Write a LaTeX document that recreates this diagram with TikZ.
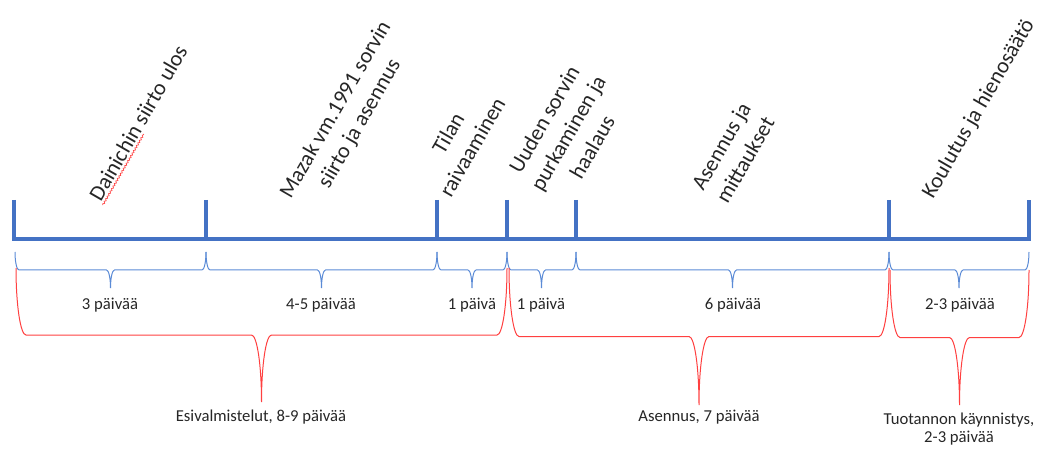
\documentclass[tikz,border=0pt]{standalone}
\usepackage{fontspec}
\setmainfont{Carlito}
\usetikzlibrary{decorations.pathmorphing}
\definecolor{axisblue}{HTML}{4472C4}
\definecolor{braceblue}{HTML}{5B8BD6}
\definecolor{bracered}{HTML}{FF4040}
\definecolor{txt}{HTML}{262626}

% curly brace opening upwards: style, left x, right x, top y, tip y, corner radius
\newcommand\curlybrace[6]{%
  \pgfmathsetmacro\bxc{(#2+#3)/2}%
  \pgfmathsetmacro\bh{(#5-#4)/2}%
  \pgfmathsetmacro\bmid{#4+\bh}%
  \pgfmathsetmacro\bk{0.552*\bh}%
  \pgfmathsetmacro\bkr{0.552*#6}%
  \draw[#1] (#2,#4) .. controls (#2,#4+\bk) and (#2+#6-\bkr,\bmid) .. (#2+#6,\bmid)
    -- (\bxc-#6,\bmid) .. controls (\bxc-#6+\bkr,\bmid) and (\bxc,\bmid+\bh-\bk) .. (\bxc,#5)
    .. controls (\bxc,\bmid+\bh-\bk) and (\bxc+#6-\bkr,\bmid) .. (\bxc+#6,\bmid)
    -- (#3-#6,\bmid) .. controls (#3-#6+\bkr,\bmid) and (#3,#4+\bk) .. (#3,#4);%
}

\begin{document}
\begin{tikzpicture}[x=0.75pt,y=-0.75pt,
  timeline/.style={axisblue,line width=2.7pt},
  phasebrace/.style={braceblue,line width=0.75pt},
  groupbrace/.style={bracered,line width=0.75pt},
  steplabel/.style={txt,rotate=60,align=center,font=\fontsize{16.5}{20.8}\selectfont,inner sep=0pt},
  daylabel/.style={txt,align=center,font=\fontsize{12.5}{13.5}\selectfont,inner sep=0pt}]
\useasboundingbox (0,0) rectangle (1043,449);

% tick positions on the time axis
\foreach \n/\x in {0/14,1/206,2/437,3/507,4/576,5/889,6/1029}{
  \coordinate (t\n) at (\x,239);
  \coordinate (u\n) at (\x,200);
}

% time axis with phase ticks
\draw[timeline,line cap=butt] (u0) -- (t0) -- (t6) -- (u6);
\foreach \n in {1,...,5}{\draw[timeline] (u\n) -- (t\n);}

% phase names
\node[steplabel] (s1) at (138,123) {Dainichin siirto ulos};
\node[steplabel] (s2) at (348,117) {Mazak vm.1991 sorvin\\siirto ja asennus};
\node[steplabel] (s3) at (460,140) {Tilan\\raivaaminen};
\node[steplabel] (s4) at (568,133) {Uuden sorvin\\purkaminen ja\\haalaus};
\node[steplabel] (s5) at (733,153) {Asennus ja\\mittaukset};
\node[steplabel] (s6) at (979,109) {Koulutus ja hienosäätö};
% spelling mark under the first word
\draw[bracered,line width=0.5pt,decorate,decoration={snake,amplitude=0.6pt,segment length=2.2pt}]
  (s1.base west) ++(2.2,2.2) -- ++(41,-71);

% phase durations
\curlybrace{phasebrace}{15}{206}{252}{288}{4}
\curlybrace{phasebrace}{206}{437}{252}{288}{4}
\curlybrace{phasebrace}{437}{507}{252}{288}{4}
\curlybrace{phasebrace}{507}{576}{252}{288}{4}
\curlybrace{phasebrace}{576}{889}{252}{288}{4}
\curlybrace{phasebrace}{889}{1029}{252}{288}{4}

\node[daylabel] (d1) at (110,305) {3 päivää};
\node[daylabel] (d2) at (321,305) {4-5 päivää};
\node[daylabel] (d3) at (472,305) {1 päivä};
\node[daylabel] (d4) at (541,305) {1 päivä};
\node[daylabel] (d5) at (733,305) {6 päivää};
\node[daylabel] (d6) at (960,305) {2-3 päivää};

% grouped stages
\curlybrace{groupbrace}{16}{507}{268}{402}{10}
\curlybrace{groupbrace}{509}{889}{268}{405}{10}
\curlybrace{groupbrace}{890}{1029}{270}{405}{10}

\node[daylabel] (g1) at (261,417) {Esivalmistelut, 8-9 päivää};
\node[daylabel] (g2) at (699,417) {Asennus, 7 päivää};
\node[daylabel] (g3) at (959,429) {Tuotannon käynnistys,\\2-3 päivää};
\end{tikzpicture}
\end{document}
